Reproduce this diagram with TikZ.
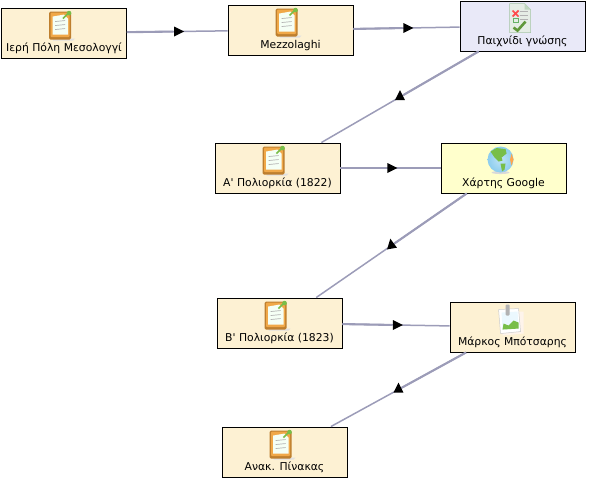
\documentclass[tikz,border=0pt]{standalone}
\usepackage{fontspec}
\setmainfont{DejaVu Sans}
\usepackage{xcolor}
\usetikzlibrary{shapes.geometric, positioning, calc}
\definecolor{cardbeige}{HTML}{FDF1D3}
\definecolor{cardlilac}{HTML}{E9E9F8}
\definecolor{cardyellow}{HTML}{FFFFCC}
\definecolor{linkgray}{HTML}{9C9CB8}
\definecolor{woodbrown}{HTML}{BE7F2E}
\definecolor{woodorange}{HTML}{F0A848}
\definecolor{pingreen}{HTML}{78BE48}
\definecolor{skyblue}{HTML}{8CCDEE}
\tikzset{
  % Card styles
  card/.style={rectangle, draw=black, fill=#1, line width=0.9pt, minimum width=125pt, minimum height=50pt, inner sep=0pt, text height=43pt, text depth=7pt, font=\fontsize{10.8}{12}\selectfont},
  card/.default={cardbeige},
  % Connector styles
  link/.style={draw=linkgray, line width=1.5pt},
  linkhalf/.style={draw=linkgray, line width=2.1pt},
  tip/.style={isosceles triangle, isosceles triangle stretches, minimum width=10pt, minimum height=10pt, inner sep=0pt, fill=black, rotate=#1},
  % Icons, drawn from their top left corner
  clipboard/.pic={
    \fill[black!12] (4,27) -- (26,27) -- (24,29) -- (4,29) -- cycle;
    \fill[woodbrown, rounded corners=1.5pt] (0,0) rectangle (22,28);
    \fill[woodorange, rounded corners=1pt] (1.5,1) rectangle (20.5,25.5);
    \fill[black!3!green!4!white] (3.5,5) -- (15,3) -- (19,7) -- (19,23) -- (3.5,23) -- cycle;
    \draw[black!30, line width=0.7pt] (6,10) -- (16,9) (6,14) -- (16,13) (6,18) -- (16,17);
    \draw[pingreen, line width=1.6pt] (14,7) -- (19,2);
    \fill[pingreen] (20,1.5) circle (2.3);
  },
  quizsheet/.pic={
    \fill[green!30!black!10!white, draw=green!35!black!35!white, line width=0.6pt] (0,0) -- (15,0) -- (21,6) -- (21,29) -- (0,29) -- cycle;
    \fill[green!35!black!25!white] (15,0) -- (15,6) -- (21,6) -- cycle;
    \draw[black!30, line width=0.7pt] (10,8) -- (18,8) (10,12) -- (18,12) (10,16) -- (18,16);
    \draw[red!70, line width=1.7pt] (3,7) -- (9,13) (9,7) -- (3,13);
    \draw[green!50!black!60!white, line width=0.7pt] (4,15) rectangle (9,19);
    \draw[pingreen!80!black, line width=2.6pt] (4,24) -- (8,27) -- (16,18);
  },
  earth/.pic={
    \fill[black!15] (13,26) ellipse (9 and 1.5);
    \shade[inner color=skyblue!55!white, outer color=skyblue] (13,13) circle (13);
    \fill[pingreen] (3,5) -- (9,1.5) -- (18,2.5) -- (19,7) -- (14,11) -- (15,14) -- (11,15) -- (7,11) -- cycle;
    \fill[pingreen] (13,17) -- (18,17) -- (17,23) -- (14.5,25) -- cycle;
    \fill[orange!70] (24,7) -- (26,13) -- (24,19) -- (22.5,13) -- cycle;
  },
  photo/.pic={
    \fill[black!6!orange!8!white] (3,6) -- (25,5) -- (25,27) -- (4,29) -- cycle;
    \fill[white, draw=black!20, line width=0.5pt] (0,3) -- (20,2) -- (22,25) -- (2,27) -- cycle;
    \fill[cyan!8] (3,6) -- (19,5) -- (20,22) -- (4,23) -- cycle;
    \fill[pingreen] (4,23) -- (5,17) -- (10,19) -- (15,14) -- (20,16) -- (20,22) -- cycle;
    \fill[black!30, rounded corners=1pt] (7,-2) rectangle (11,9);
  },
}
\begin{document}
\begin{tikzpicture}[x=1pt, y=-1pt]
    \useasboundingbox (0,0) rectangle (590,482);

    % Cards
    \node[card] (hiera) at (64,33) {Ιερή Πόλη Μεσολογγί};
    \node[card] (mezzo) at (290.5,30) {Mezzolaghi};
    \node[card=cardlilac] (quiz) at (522.5,26) {Παιχνίδι γνώσης};
    \node[card] (siegeA) at (277.5,168) {Α\textquotesingle{} Πολιορκία (1822)};
    \node[card=cardyellow] (gmap) at (503.5,168) {Χάρτης Google};
    \node[card] (siegeB) at (279.5,323) {Β\textquotesingle{} Πολιορκία (1823)};
    \node[card] (markos) at (512.5,327) {Μάρκος Μπότσαρης};
    \node[card] (table) at (284.5,452) {Ανακ. Πίνακας};

    % Connectors
    \foreach \from/\to/\ang in {hiera/mezzo/0, mezzo/quiz/0, quiz/siegeA/90, siegeA/gmap/0, gmap/siegeB/100, siegeB/markos/0, markos/table/90} {
      \draw[link] (\from) -- node[tip=\ang] (tip\from) {} (\to);
      \draw[linkhalf] (\from) -- (tip\from);
    }

    % Icons
    \foreach \card in {hiera, mezzo, siegeA, siegeB, table} {
      \pic at ([xshift=48pt, yshift=-4pt]\card.north west) {clipboard};
    }
    \pic at ([xshift=50pt, yshift=-3pt]quiz.north west) {quizsheet};
    \pic at ([xshift=47pt, yshift=-4pt]gmap.north west) {earth};
    \pic at ([xshift=49pt, yshift=-5pt]markos.north west) {photo};
  \end{tikzpicture}
\end{document}
